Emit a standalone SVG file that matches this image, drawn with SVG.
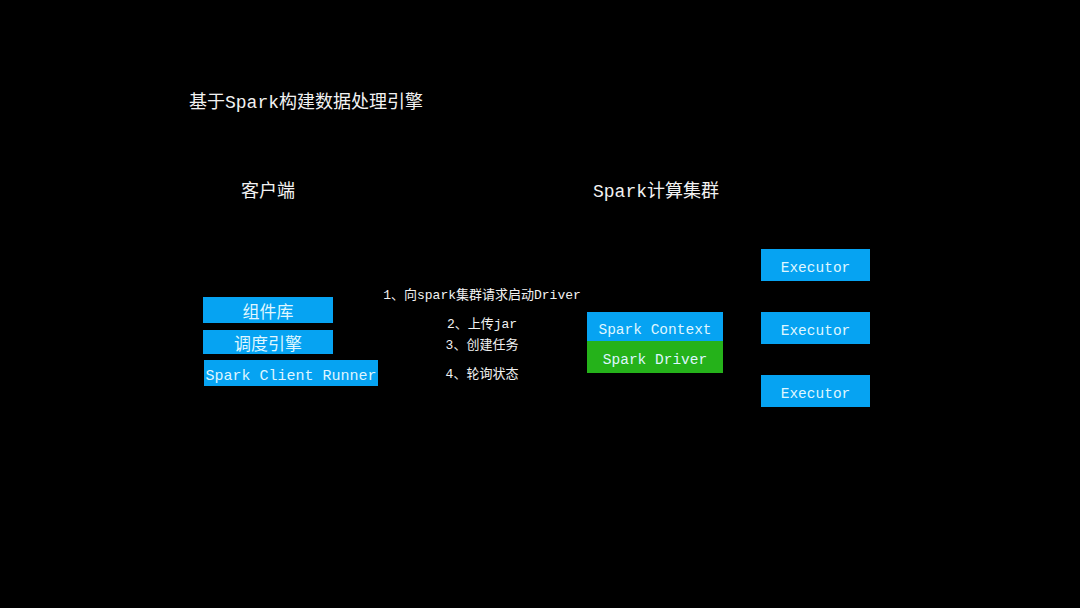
<svg xmlns="http://www.w3.org/2000/svg" width="1080" height="608" viewBox="0 0 1080 608">
<style>
text{font-family:"Liberation Mono","Noto Sans CJK SC",monospace;}
.h{fill:#f2f2f2;}
.lbl{fill:#f2f2f2;font-size:13px;text-anchor:middle;}
.blue{fill:#06A3F2;}
.green{fill:#25B21A;}
.bt{fill:#dff6ff;font-size:14.5px;text-anchor:middle;}
.cj{font-size:17px;}
</style>
<rect width="1080" height="608" fill="#000"/>
<text class="h" x="189" y="108" font-size="18">基于Spark构建数据处理引擎</text>
<text class="h" x="241" y="197" font-size="18">客户端</text>
<text class="h" x="593" y="197" font-size="18">Spark计算集群</text>
<g id="connectors">
<text class="lbl" x="482" y="299">1、向spark集群请求启动Driver</text>
<text class="lbl" x="482" y="328">2、上传jar</text>
<text class="lbl" x="482" y="349">3、创建任务</text>
<text class="lbl" x="482" y="378">4、轮询状态</text>
</g>
<g id="lib"><rect class="blue" x="203" y="297" width="130" height="26"/><text class="bt cj" x="268" y="317.5">组件库</text></g>
<g id="sched"><rect class="blue" x="203" y="330" width="130" height="24"/><text class="bt cj" x="268" y="349.5">调度引擎</text></g>
<g id="runner"><rect class="blue" x="204" y="360" width="174" height="26"/><text class="bt" x="291" y="380" style="font-size:15px">Spark Client Runner</text></g>
<g id="context"><rect class="blue" x="587" y="312" width="136" height="29"/><text class="bt" x="655" y="334">Spark Context</text></g>
<g id="driver"><rect class="green" x="587" y="341" width="136" height="32"/><text class="bt" x="655" y="364">Spark Driver</text></g>
<g id="exec1"><rect class="blue" x="761" y="249" width="109" height="32"/><text class="bt" x="815.5" y="272">Executor</text></g>
<g id="exec2"><rect class="blue" x="761" y="312" width="109" height="32"/><text class="bt" x="815.5" y="335">Executor</text></g>
<g id="exec3"><rect class="blue" x="761" y="375" width="109" height="32"/><text class="bt" x="815.5" y="398">Executor</text></g>
</svg>
